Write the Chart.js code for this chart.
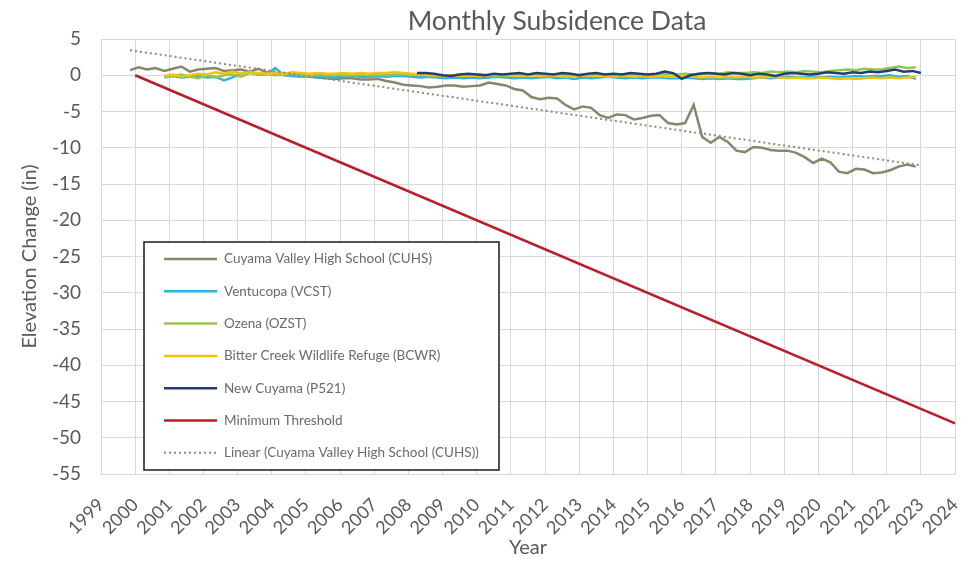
<!DOCTYPE html>
<html>
<head>
<meta charset="utf-8">
<title>Monthly Subsidence Data</title>
<script src="https://cdn.jsdelivr.net/npm/chart.js@4/dist/chart.umd.min.js"></script>
<style>
  html, body { margin: 0; padding: 0; background: #ffffff; }
  #wrap { width: 972px; height: 562px; }
</style>
</head>
<body>
<div id="wrap"><canvas id="chart" width="972" height="562"></canvas></div>
<script>
// Elevation change (inches), sampled quarterly from each station's monthly record.
const cuhsStart = 1999.85;
const cuhsValues = [
  0.7, 1.1, 0.8, 1.0, 0.6, 0.9, 1.2, 0.5, 0.8, 0.9,
  1.0, 0.6, 0.7, 0.8, 0.5, 0.9, 0.4, 0.3, 0.2, 0.0,
  -0.1, -0.2, -0.3, -0.4, -0.5, -0.4, -0.4, -0.6, -0.6, -0.5,
  -0.8, -1.0, -1.3, -1.4, -1.5, -1.7, -1.6, -1.4, -1.4, -1.6,
  -1.5, -1.4, -1.0, -1.2, -1.4, -1.9, -2.1, -3.0, -3.3, -3.1,
  -3.2, -4.1, -4.7, -4.3, -4.5, -5.5, -5.9, -5.4, -5.5, -6.1,
  -5.9, -5.6, -5.5, -6.6, -6.8, -6.6, -4.1, -8.5, -9.3, -8.5,
  -9.2, -10.4, -10.6, -9.9, -10.0, -10.3, -10.4, -10.4, -10.7, -11.3,
  -12.1, -11.5, -12.0, -13.3, -13.5, -12.9, -13.0, -13.5, -13.4, -13.1,
  -12.6, -12.3, -12.6
];

const stationStart = 2000.85;
const vcstValues = [
  -0.2, -0.1, -0.3, -0.2, -0.1, -0.3, -0.2, -0.7, -0.3, 0.2,
  0.5, 0.1, 0.1, 1.0, 0.0, -0.1, -0.2, -0.1, -0.3, -0.2,
  -0.3, -0.2, -0.1, -0.2, -0.2, -0.1, -0.2, -0.1, -0.1, -0.2,
  -0.3, -0.2, -0.3, -0.4, -0.3, -0.4, -0.3, -0.4, -0.3, -0.2,
  -0.3, -0.4, -0.3, -0.4, -0.3, -0.2, -0.4, -0.3, -0.5, -0.3,
  -0.4, -0.3, -0.2, -0.3, -0.4, -0.3, -0.4, -0.3, -0.3, -0.4,
  -0.4, -0.3, -0.4, -0.5, -0.4, -0.5, -0.4, -0.5, -0.5, -0.4,
  -0.3, -0.4, -0.3, -0.2, -0.3, -0.3, -0.2, -0.3, -0.2, -0.3,
  -0.2, -0.1, -0.2, -0.1, -0.1, 0.0, -0.2, -0.1, -0.5
];
const ozstValues = [
  -0.3, -0.1, 0.1, -0.2, -0.4, 0.0, -0.3, 0.0, 0.1, -0.2,
  0.3, 0.1, 0.2, 0.0, 0.1, 0.2, 0.0, -0.1, 0.1, 0.0,
  0.1, 0.0, 0.0, 0.1, 0.0, 0.1, 0.0, 0.1, 0.1, 0.0,
  0.1, 0.0, 0.0, -0.1, 0.0, 0.1, 0.0, 0.1, 0.0, -0.1,
  0.0, 0.1, 0.0, 0.1, 0.0, 0.1, 0.1, 0.0, 0.0, 0.1,
  0.0, 0.1, 0.1, 0.0, 0.1, 0.2, 0.1, 0.0, 0.1, 0.2,
  0.1, 0.2, 0.1, 0.2, 0.3, 0.2, 0.4, 0.3, 0.3, 0.4,
  0.3, 0.5, 0.4, 0.5, 0.4, 0.6, 0.5, 0.4, 0.6, 0.7,
  0.8, 0.7, 0.9, 0.8, 0.8, 1.0, 1.2, 1.0, 1.1
];
const bcwrValues = [
  -0.1, 0.1, -0.2, 0.0, 0.2, 0.1, 0.4, 0.2, 0.5, 0.2,
  0.4, 0.3, 0.2, 0.3, 0.2, 0.4, 0.3, 0.2, 0.3, 0.2,
  0.2, 0.3, 0.2, 0.3, 0.2, 0.3, 0.3, 0.4, 0.3, 0.2,
  0.1, 0.0, 0.0, -0.1, 0.0, -0.1, 0.0, -0.1, 0.0, 0.1,
  0.0, -0.1, -0.1, 0.0, -0.1, 0.0, -0.1, -0.2, -0.1, 0.0,
  -0.1, -0.1, -0.2, -0.1, -0.1, -0.2, -0.1, -0.2, -0.1, -0.2,
  -0.2, -0.1, -0.2, -0.3, -0.2, -0.3, -0.2, -0.3, -0.2, -0.3,
  -0.3, -0.2, -0.3, -0.4, -0.3, -0.4, -0.4, -0.3, -0.4, -0.5,
  -0.4, -0.5, -0.4, -0.3, -0.4, -0.3, -0.4, -0.3, -0.2
];

const p521Start = 2008.25;
const p521Values = [
  0.3, 0.3, 0.2, 0.0, -0.1, 0.1, 0.2, 0.1, 0.0, 0.2,
  0.1, 0.2, 0.3, 0.1, 0.3, 0.2, 0.1, 0.3, 0.2, 0.0,
  0.2, 0.3, 0.1, 0.2, 0.1, 0.3, 0.2, 0.1, 0.2, 0.5,
  0.3, -0.5, 0.0, 0.2, 0.3, 0.2, 0.1, 0.3, 0.2, 0.0,
  0.2, 0.1, -0.1, 0.2, 0.3, 0.2, 0.1, 0.2, 0.4, 0.3,
  0.2, 0.4, 0.3, 0.5, 0.4, 0.6, 0.8, 0.5, 0.6, 0.3
];

const sampleStep = 0.25;

// Minimum threshold endpoints (year, inches)
const thresholdYears = [2000, 2024];
const thresholdValues = [0, -48];

// Linear trend of the CUHS record, start and end of the fitted line
const trendYears = [1999.85, 2022.95];
const trendValues = [3.45, -12.4];

const seriesLabels = [
  'Cuyama Valley High School (CUHS)',
  'Ventucopa (VCST)',
  'Ozena (OZST)',
  'Bitter Creek Wildlife Refuge (BCWR)',
  'New Cuyama (P521)',
  'Minimum Threshold',
  'Linear (Cuyama Valley High School (CUHS))'
];

const yearMin = 1999, yearMax = 2024;
const elevMin = -55, elevMax = 5, elevStep = 5;

function sampled(start, values) {
  return values.map((v, i) => ({ x: +(start + i * sampleStep).toFixed(3), y: v }));
}
function paired(xs, ys) {
  return xs.map((x, i) => ({ x: x, y: ys[i] }));
}

const FONT = 'Lato, "Open Sans", sans-serif';
const TEXT = '#595959';

const colors = ['#87876b', '#2db3e6', '#95c455', '#f4c20d', '#22406f', '#bb1d2b', '#8c8c7e'];

const lineBase = { pointRadius: 0, borderWidth: 2.5, tension: 0, fill: false };

const datasets = [
  Object.assign({}, lineBase, { label: seriesLabels[0], data: sampled(cuhsStart, cuhsValues), borderColor: colors[0], order: 6 }),
  Object.assign({}, lineBase, { label: seriesLabels[1], data: sampled(stationStart, vcstValues), borderColor: colors[1], order: 5 }),
  Object.assign({}, lineBase, { label: seriesLabels[2], data: sampled(stationStart, ozstValues), borderColor: colors[2], order: 4 }),
  Object.assign({}, lineBase, { label: seriesLabels[3], data: sampled(stationStart, bcwrValues), borderColor: colors[3], order: 3 }),
  Object.assign({}, lineBase, { label: seriesLabels[4], data: sampled(p521Start, p521Values), borderColor: colors[4], order: 2 }),
  Object.assign({}, lineBase, { label: seriesLabels[5], data: paired(thresholdYears, thresholdValues), borderColor: colors[5], order: 1 }),
  Object.assign({}, lineBase, { label: seriesLabels[6], data: paired(trendYears, trendValues), borderColor: colors[6], borderWidth: 2, borderDash: [2, 3], order: 0 })
];

// Title centred over the plot, slightly right of the canvas centre
const titlePlugin = {
  id: 'plotTitle',
  afterDraw(chart) {
    const ctx = chart.ctx;
    ctx.save();
    ctx.font = '26.5px ' + FONT;
    ctx.fillStyle = TEXT;
    ctx.textAlign = 'center';
    ctx.textBaseline = 'middle';
    ctx.fillText('Monthly Subsidence Data', chart.chartArea.left + 456, 21);
    ctx.restore();
  }
};

// Boxed legend sitting inside the lower-left of the plot
const boxLegend = {
  id: 'boxLegend',
  afterDraw(chart) {
    const ctx = chart.ctx;
    const a = chart.chartArea;
    const x0 = a.left + 43, w = 355, h = 228;
    const y0 = a.bottom - 4 - h;
    ctx.save();
    ctx.fillStyle = '#ffffff';
    ctx.fillRect(x0, y0, w, h);
    ctx.strokeStyle = '#1a1a1a';
    ctx.lineWidth = 1.5;
    ctx.strokeRect(x0, y0, w, h);
    ctx.font = '13.5px ' + FONT;
    ctx.textBaseline = 'middle';
    ctx.textAlign = 'left';
    chart.data.datasets.forEach((ds, i) => {
      const y = y0 + 17 + i * 32.3;
      ctx.beginPath();
      ctx.strokeStyle = ds.borderColor;
      ctx.lineWidth = ds.borderWidth;
      ctx.setLineDash(ds.borderDash || []);
      ctx.moveTo(x0 + 20, y);
      ctx.lineTo(x0 + 73, y);
      ctx.stroke();
      ctx.setLineDash([]);
      ctx.fillStyle = '#6a6a6a';
      ctx.fillText(ds.label, x0 + 80, y);
    });
    ctx.restore();
  }
};

new Chart(document.getElementById('chart'), {
  type: 'line',
  data: { datasets: datasets },
  plugins: [titlePlugin, boxLegend],
  options: {
    responsive: false,
    animation: false,
    layout: { padding: { top: 39, right: 17, left: 0, bottom: 0 } },
    plugins: { legend: { display: false }, title: { display: false }, tooltip: { enabled: false } },
    scales: {
      x: {
        type: 'linear',
        min: yearMin,
        max: yearMax,
        afterFit(scale) { scale.height = 88; scale.paddingLeft = 0; scale.paddingRight = 0; },
        grid: { color: '#d9d9d9', lineWidth: 1, drawTicks: false },
        border: { color: '#d9d9d9' },
        ticks: {
          stepSize: 1,
          autoSkip: false,
          minRotation: 45,
          maxRotation: 45,
          padding: 20,
          color: TEXT,
          font: { family: FONT, size: 18 },
          callback: (v) => String(v)
        },
        title: { display: true, text: 'Year', color: TEXT, font: { family: FONT, size: 20 }, padding: { top: 0, bottom: 2 } }
      },
      y: {
        min: elevMin,
        max: elevMax,
        afterFit(scale) { scale.width = 101; scale.paddingTop = 0; scale.paddingBottom = 0; },
        grid: { color: '#d9d9d9', lineWidth: 1, drawTicks: false },
        border: { color: '#d9d9d9' },
        ticks: {
          stepSize: elevStep,
          padding: 20,
          color: TEXT,
          font: { family: FONT, size: 19 }
        },
        title: { display: true, text: 'Elevation Change (in)', color: TEXT, font: { family: FONT, size: 20 }, padding: { top: 18, bottom: 0 } }
      }
    }
  }
});
</script>
</body>
</html>
